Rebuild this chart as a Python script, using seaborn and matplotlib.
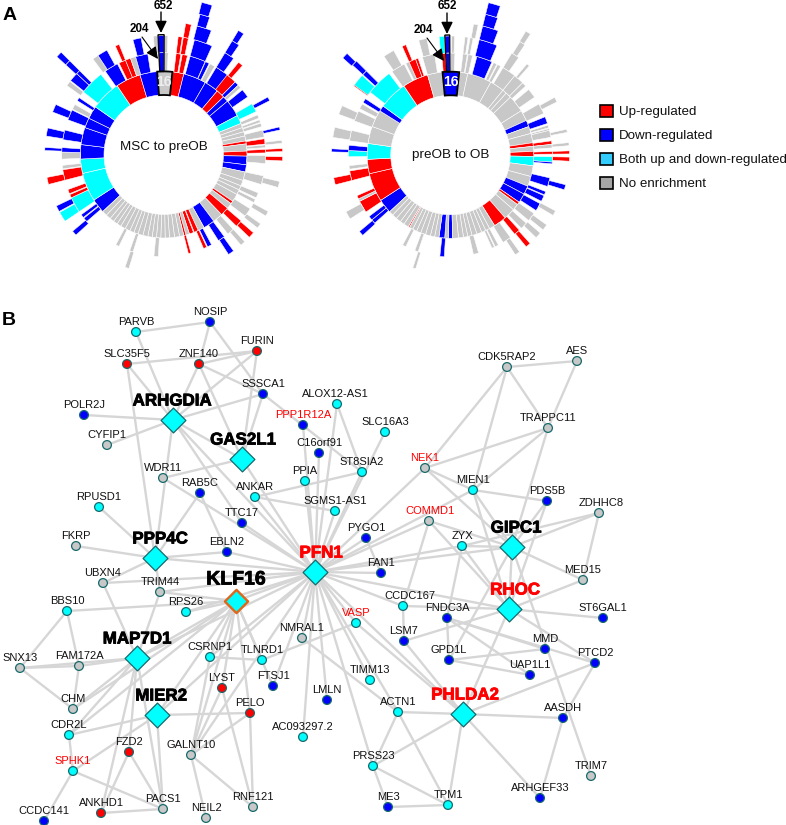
import numpy as np
import pandas as pd
import matplotlib
matplotlib.use("Agg")
import matplotlib.pyplot as plt
import matplotlib.patheffects as pe
from matplotlib.patches import Patch
import seaborn as sns

R, B, C, G = "red", "blue", "cyan", "grey"
colors = {R: "#ff0000", B: "#0000ff", C: "#00ffff", G: "#c8c8c8"}

# ring radii of the sunbursts
ring_edges = [59.7, 83.3, 102, 119, 133, 145, 157]

# thin grey terms along the bottom of each circle
msc_strips = [166, 169, 172.5, 176, 179, 182, 185, 188, 191, 194.5, 198, 201, 204, 207.5, 211, 214, 217, 220, 223.5, 227]
ob_strips_a = [152, 155, 158, 161.5, 165, 168, 171, 174.5, 178.5]
ob_strips_b = [188, 191, 194, 197.5, 201, 204, 207, 209.5]
ob_strips_c = [210.5, 214, 217, 220.5, 224, 227]

# (start angle, end angle, class) clockwise from the top
msc_ring1 = [(-4.5, 6, G), (6, 14, R), (14, 30, B), (30, 40, B), (40, 46, R), (46, 50, B), (50, 62, B), (62, 68, C),
             (68, 71, G), (71, 74, G), (74, 77, G), (77, 80.5, G), (80.5, 82.5, R), (82.5, 87.5, G), (87.5, 91, R),
             (91, 97, B), (97, 102, B), (102, 108, G), (108, 112, G), (112, 115, G), (115, 118.5, G), (118.5, 124, G),
             (124, 126, R), (126, 130, G), (130, 136, R), (136, 143, G), (143, 151, B), (151, 155.5, G),
             (155.5, 158.5, R), (159, 162, R), (162, 164.5, G), (164.5, 166, R),
             (227, 237, B), (237, 257, C), (257, 267, C), (267, 277, B), (277, 289, B), (289, 296, B), (296, 305, B),
             (305, 326, C), (326, 343.5, R), (343.5, 355.5, B)]
msc_ring2 = [(0.3, 2.5, G), (7, 9.7, R), (10.5, 13.5, R), (15, 24, B), (24.2, 26.5, B), (27, 30, G), (31, 39, B),
             (38.5, 44.5, R), (44.5, 47, B), (47, 49, G), (50.5, 55.5, B), (60, 65, C), (67, 69, G), (70, 71.5, G),
             (72, 74, G), (76, 80, G), (81, 84, R), (84.5, 86, G), (87, 89, R), (90.5, 95, G), (102, 107, G),
             (112, 115, G), (116, 118, G), (122, 127, G), (130.5, 134.5, R), (137, 141, G), (143.5, 147.5, B),
             (152, 154.5, B), (155, 157, R), (164.5, 166, R), (183, 185.5, G), (197.5, 199.5, G), (206, 208, G),
             (229, 231.5, B), (232, 234, B), (236, 245, C), (245, 247, R), (247.5, 250, R), (255.5, 261.5, R), (262, 264, G),
             (267.5, 271.5, G), (271.5, 274, B), (278.5, 284, B), (290, 296, B), (296.5, 299.5, G), (302, 304, B),
             (308, 322, C), (325, 333, B), (334, 338, R), (338, 341, R), (341, 344, G), (344, 351, B)]
msc_ring3 = [(-5, -2.8, G), (0.3, 2, G), (7, 9, R), (9.5, 12, R), (15, 24, B), (31, 36, B), (39, 41.5, R), (61, 63, B),
             (76.5, 78, B), (83, 84.5, G), (87, 88.5, R), (91, 93, R), (103, 106, G), (118.5, 121, G), (125.5, 128, G),
             (131, 134, R), (137, 139.5, G), (144, 147, B), (197, 199, G), (227.5, 230, B), (236, 241, C),
             (241.5, 244.5, B), (255.5, 259, R), (272, 273.5, B), (279, 283, B), (291, 295, B), (305.5, 308, G),
             (308.5, 313, B), (313, 315, B), (323.5, 326.5, G), (326.5, 331.5, B), (336, 338, R), (345, 349, B)]
msc_ring4 = [(9.5, 12, R), (14.5, 21, B), (31, 34.5, B), (312.5, 315, B)]
msc_ring5 = [(14.5, 18.5, B), (31, 33.5, B), (312.5, 315, B)]
msc_ring6 = [(14, 18, B)]
msc_box1 = (-4.5, 6)
msc_box2 = (-2.7, 0.2)
msc_top = [(-2.7, 0.2, B)]

ob_ring1 = [(-5.5, 6, B), (6, 12, G), (12, 29, G), (29, 39, G), (39, 42, G), (42, 46, G), (46, 58, G), (58, 65.5, G),
            (65.5, 70, B), (70, 75, G), (75, 81.5, G), (81.5, 84, R), (84, 87.5, G), (87.5, 91, R), (91, 97.5, C),
            (97.5, 105, G), (105, 112, G), (112, 118, B), (118, 124.5, B), (124.5, 126.5, R), (126.5, 131, G),
            (131, 139, G), (139, 148, R), (148, 152, G), (178.5, 181.5, B), (181.5, 184, G), (184, 188, B),
            (209.5, 210.5, R), (227, 237, B), (237, 257, R), (257, 267, R), (267, 278, C), (278, 290, G), (290, 302, G),
            (302, 306, B), (306, 326, C), (326, 344, R), (344, 354.5, G)]
ob_ring2 = [(-5, -2.8, R), (0, 2.5, G), (7, 9.5, G), (10, 12.5, G), (15, 24, B), (25, 27, G), (27.5, 29.5, G), (31, 39, G),
            (39, 45, G), (45, 47.5, G), (50, 55.5, G), (60, 66, G), (68, 72, B), (73, 74.5, G), (75, 76, G), (76, 80, G),
            (82, 84, R), (84, 86, G), (88, 89.5, R), (91, 94, C), (94, 95, B), (103, 108, B), (111, 113, B),
            (113.5, 117, B), (118.5, 123, B), (125, 130, G), (132, 136, G), (137.5, 141, R), (144, 149, G),
            (152, 154, G), (154.5, 156, G), (164, 167, G), (183.5, 186, B), (198.5, 200.5, G), (206, 208, G),
            (228, 230.5, B), (230.5, 233, B), (236, 243, R), (243, 244.5, G), (244.5, 246.5, R), (255.5, 261, R),
            (262, 264, G), (269, 272.5, C), (272.5, 275.5, B), (278, 284, G), (289.5, 295.5, G), (297, 300, G),
            (301, 303.5, B), (308, 323, C), (325, 333, G), (334, 336, G), (336, 340, R), (340, 341.5, R), (344, 351, G)]
ob_ring3 = [(-5.5, -3, C), (0.5, 2, G), (7, 8.5, G), (9.5, 11, G), (14, 23, B), (31, 35, G), (40, 41.5, G), (61, 63.5, G),
            (77.5, 79, G), (84, 85.5, G), (88, 89.5, R), (91, 93, R), (104.5, 107, B), (118, 120.5, G), (126, 129, G),
            (131, 134, G), (138, 140.5, R), (144.5, 147, G), (197, 198.5, G), (227.5, 230, B), (237.5, 241.5, G),
            (255.5, 259, R), (271.5, 273, B), (278.5, 283.5, G), (290, 294.5, G), (305.5, 307.5, R), (306, 312, C),
            (312.5, 315, B), (326, 331.5, G), (336, 338, R), (344.5, 348.5, G)]
ob_ring4 = [(10, 12, G), (14, 21, B), (31.5, 34, G), (312.5, 315, B)]
ob_ring5 = [(14, 19, B), (31.3, 33.5, G), (312, 314.5, B)]
ob_ring6 = [(14, 18.5, B)]
ob_box1 = (-5.5, 6)
ob_box2 = (-2.7, -0.4)
ob_top = [(-2.7, -0.4, B)]

# network
gene_names = ["NOSIP", "PARVB", "FURIN", "SLC35F5", "ZNF140", "SSSCA1", "ALOX12-AS1", "POLR2J", "PPP1R12A", "SLC16A3",
              "CYFIP1", "C16orf91", "ST8SIA2", "WDR11", "PPIA", "RAB5C", "ANKAR", "SGMS1-AS1", "RPUSD1", "TTC17",
              "PYGO1", "FKRP", "EBLN2", "FAN1", "UBXN4", "TRIM44", "RPS26", "BBS10", "VASP", "NMRAL1",
              "CSRNP1", "TLNRD1", "SNX13", "FAM172A", "TIMM13", "LYST", "FTSJ1", "LMLN", "CHM", "PELO",
              "CDR2L", "AC093297.2", "FZD2", "GALNT10", "SPHK1", "PRSS23", "ACTN1", "RNF121", "PACS1", "ANKHD1",
              "NEIL2", "CCDC141", "ME3", "CDK5RAP2", "AES", "TRAPPC11", "NEK1", "MIEN1", "PDS5B", "ZDHHC8",
              "COMMD1", "ZYX", "MED15", "CCDC167", "FNDC3A", "ST6GAL1", "LSM7", "MMD", "GPD1L", "PTCD2",
              "UAP1L1", "AASDH", "TRIM7", "ARHGEF33", "TPM1"]
gene_x = [210, 136, 257, 127, 199, 263, 337, 84, 303, 385,
          107, 319, 362, 163, 305, 200, 255, 335, 99, 242,
          366, 76, 227, 381, 103, 160, 186, 67, 356, 302,
          210, 262, 20, 79, 370, 222, 273, 327, 73, 250,
          69, 303, 129, 191, 73, 373, 398, 253, 163, 101,
          206, 44, 388, 507, 577, 548, 425, 473, 547, 599,
          429, 462, 583, 403, 447, 603, 404, 545, 449, 595,
          530, 563, 591, 540, 448]
gene_y = [322, 332, 351, 364, 364, 394, 404, 415, 425, 432,
          445, 453, 472, 478, 481, 493, 497, 511, 507, 523,
          538, 546, 552, 573, 583, 592, 612, 611, 623, 638,
          657, 660, 668, 666, 680, 688, 686, 700, 709, 713,
          735, 737, 752, 755, 771, 766, 712, 807, 809, 813,
          818, 821, 807, 367, 361, 428, 468, 490, 501, 513,
          521, 546, 580, 606, 618, 618, 641, 649, 660, 663,
          675, 718, 776, 798, 805]
grey_genes = ["CYFIP1", "WDR11", "FKRP", "UBXN4", "TRIM44", "SNX13", "FAM172A", "CHM", "NMRAL1", "GALNT10", "PACS1",
              "NEIL2", "RNF121", "AES", "CDK5RAP2", "TRAPPC11", "NEK1", "COMMD1", "ZDHHC8", "MED15", "TRIM7"]
red_genes = ["SLC35F5", "ZNF140", "FURIN", "LYST", "PELO", "FZD2", "ANKHD1"]
blue_genes = ["NOSIP", "POLR2J", "SSSCA1", "PPP1R12A", "C16orf91", "RAB5C", "TTC17", "EBLN2", "PYGO1", "FAN1", "FTSJ1",
              "LMLN", "CCDC141", "ME3", "PDS5B", "FNDC3A", "ST6GAL1", "LSM7", "MMD", "GPD1L", "PTCD2", "UAP1L1", "AASDH",
              "ARHGEF33"]
red_labels = ["PPP1R12A", "NEK1", "COMMD1", "VASP", "SPHK1", "PFN1", "RHOC", "PHLDA2"]

hub_names = ["ARHGDIA", "GAS2L1", "PPP4C", "PFN1", "KLF16", "MAP7D1", "MIER2", "GIPC1", "RHOC", "PHLDA2"]
hub_x = [173, 242, 155, 315, 236, 137, 157, 512, 509, 463]
hub_y = [420, 459, 558, 572, 601, 658, 715, 547, 609, 714]
hub_label_dx = [-1, 1, 5, 6, 0, 0, 4, 4, 6, 2]

edges = {
    "ARHGDIA": ["POLR2J", "CYFIP1", "SLC35F5", "ZNF140", "PARVB", "FURIN", "SSSCA1", "PPP4C", "PFN1", "GAS2L1", "TTC17"],
    "GAS2L1": ["WDR11", "SSSCA1", "ZNF140", "FURIN", "PFN1"],
    "PPP4C": ["SLC35F5", "RAB5C", "RPUSD1", "FKRP", "UBXN4", "TRIM44", "EBLN2", "PFN1"],
    "PFN1": ["PPP1R12A", "C16orf91", "PPIA", "ALOX12-AS1", "SLC16A3", "ST8SIA2", "SGMS1-AS1", "PYGO1", "FAN1", "ANKAR",
             "TTC17", "EBLN2", "WDR11", "UBXN4", "TRIM44", "KLF16", "COMMD1", "NEK1", "MIEN1", "ZYX", "GIPC1",
             "RHOC", "CCDC167", "VASP", "TIMM13", "PHLDA2", "ACTN1", "PRSS23", "LMLN", "AC093297.2", "FTSJ1", "CSRNP1",
             "RPS26", "MAP7D1", "MIER2", "GALNT10", "NMRAL1"],
    "KLF16": ["RPS26", "TRIM44", "BBS10", "MAP7D1", "MIER2", "CSRNP1", "TLNRD1", "FTSJ1", "PELO", "LYST", "GALNT10", "CDR2L", "CHM"],
    "MAP7D1": ["UBXN4", "TRIM44", "SNX13", "FAM172A", "CHM", "CDR2L", "FZD2", "ANKHD1", "PACS1"],
    "MIER2": ["CDR2L", "PACS1", "PELO", "SPHK1"],
    "GIPC1": ["ZYX", "PDS5B", "ZDHHC8", "MED15", "NEK1", "GPD1L", "TRIM7", "COMMD1", "MIEN1", "TRAPPC11", "RHOC"],
    "RHOC": ["ZYX", "MIEN1", "COMMD1", "PDS5B", "CCDC167", "LSM7", "MED15", "ST6GAL1", "PTCD2", "PHLDA2"],
    "PHLDA2": ["LSM7", "VASP", "ACTN1", "PRSS23", "TPM1", "AASDH", "ARHGEF33", "PTCD2"],
    "NOSIP": ["PARVB", "ZNF140", "SSSCA1"],
    "FURIN": ["SLC35F5", "ZNF140"],
    "ZNF140": ["SSSCA1"],
    "SSSCA1": ["ST8SIA2"],
    "ANKAR": ["ST8SIA2", "SGMS1-AS1"],
    "ALOX12-AS1": ["ST8SIA2"],
    "RAB5C": ["EBLN2"],
    "PYGO1": ["FAN1"],
    "BBS10": ["SNX13", "FAM172A"],
    "SNX13": ["FAM172A", "CHM"],
    "FAM172A": ["CHM"],
    "CDR2L": ["SPHK1"],
    "SPHK1": ["CCDC141", "PACS1"],
    "FZD2": ["PACS1", "ANKHD1"],
    "ANKHD1": ["PACS1"],
    "GALNT10": ["PELO", "NEIL2", "RNF121", "CSRNP1", "LYST"],
    "LYST": ["RNF121"],
    "PELO": ["RNF121"],
    "CSRNP1": ["TLNRD1"],
    "VASP": ["TLNRD1"],
    "NMRAL1": ["ACTN1"],
    "ACTN1": ["TPM1", "PRSS23"],
    "PRSS23": ["ME3", "TPM1"],
    "ME3": ["TPM1"],
    "CDK5RAP2": ["AES", "TRAPPC11", "NEK1", "MIEN1"],
    "TRAPPC11": ["AES", "NEK1", "MIEN1"],
    "NEK1": ["MIEN1"],
    "MIEN1": ["PDS5B"],
    "ZDHHC8": ["MED15", "ZYX"],
    "COMMD1": ["CCDC167"],
    "ZYX": ["FNDC3A"],
    "CCDC167": ["LSM7"],
    "FNDC3A": ["GPD1L", "MMD", "PTCD2", "UAP1L1"],
    "GPD1L": ["MMD", "UAP1L1"],
    "AASDH": ["PTCD2", "ARHGEF33"],
}

legend_labels = ["Up-regulated", "Down-regulated", "Both up and down-regulated", "No enrichment"]
legend_colors = ["#ff0000", "#0000ff", "#33ccff", "#a6a6a6"]

W, H = 786, 825
sns.set_theme(style="white")
plt.rcParams["font.family"] = ["Liberation Sans", "DejaVu Sans"]


def overlay(z):
    ax = fig.add_axes([0, 0, 1, 1], zorder=z)
    ax.set_xlim(0, W)
    ax.set_ylim(H, 0)
    ax.set_axis_off()
    ax.patch.set_alpha(0)
    return ax


def sunburst(cx, cy, rings, box1, box2, title, title_y, count_color):
    rmax = 158
    ax = fig.add_axes([(cx - rmax) / W, 1 - (cy + rmax) / H, 2 * rmax / W, 2 * rmax / H], projection="polar")
    ax.set_theta_zero_location("N")
    ax.set_theta_direction(-1)
    ax.set_ylim(0, rmax)
    ax.set_axis_off()
    for i, ring in enumerate(rings):
        bottom = ring_edges[i]
        top = ring_edges[i + 1]
        for start, end, kind in ring:
            ax.bar(np.radians((start + end) / 2), top - bottom, width=np.radians(end - start), bottom=bottom,
                   color=colors[kind], edgecolor="white", linewidth=0.4)
    # the highlighted term and its children
    ax.bar(np.radians(sum(box1) / 2), ring_edges[1] - ring_edges[0], width=np.radians(box1[1] - box1[0]),
           bottom=ring_edges[0], fill=False, edgecolor="black", linewidth=1.3, zorder=5)
    ax.bar(np.radians(sum(box2) / 2), 120 - ring_edges[1], width=np.radians(box2[1] - box2[0]),
           bottom=ring_edges[1], fill=False, edgecolor="black", linewidth=1.0, zorder=5)
    ax.text(np.radians(0.5), 73, "16", color=count_color, fontsize=10, fontweight="bold", ha="center", va="center", zorder=6)
    fig.text(cx / W, 1 - title_y / H, title, fontsize=9.7, color="#111111", ha="center", va="center")


def arrow(ax, text, tx, ty, x0, y0, x1, y1, width):
    ax.text(tx, ty, text, fontsize=8.4, fontweight="bold", color="black", ha="center", va="center", zorder=10)
    ax.annotate("", xy=(x1, y1), xytext=(x0, y0), zorder=10,
                arrowprops=dict(arrowstyle="-|>,head_length=0.45,head_width=0.22", color="black", lw=width,
                                mutation_scale=16, shrinkA=0, shrinkB=0))


fig = plt.figure(figsize=(W / 100, H / 100), dpi=100)
canvas = overlay(1)

# network
pos = dict(zip(gene_names + hub_names, zip(gene_x + hub_x, gene_y + hub_y)))
for source, targets in edges.items():
    for target in targets:
        canvas.plot([pos[source][0], pos[target][0]], [pos[source][1], pos[target][1]],
                    color="#d6d6d6", lw=1.7, solid_capstyle="round", zorder=1)

nodes = pd.DataFrame({"name": gene_names, "x": gene_x, "y": gene_y})
nodes["kind"] = C
nodes.loc[nodes["name"].isin(grey_genes), "kind"] = G
nodes.loc[nodes["name"].isin(red_genes), "kind"] = R
nodes.loc[nodes["name"].isin(blue_genes), "kind"] = B
sns.scatterplot(data=nodes, x="x", y="y", hue="kind", palette=colors, s=40, edgecolor="#17696b", linewidth=0.9,
                legend=False, ax=canvas, zorder=3)

hubs = pd.DataFrame({"name": hub_names, "x": hub_x, "y": hub_y})
hub_plain = hubs[hubs["name"] != "KLF16"]
sns.scatterplot(data=hub_plain, x="x", y="y", marker="D", s=160, color=colors[C], edgecolor="#17696b", linewidth=0.9,
                legend=False, ax=canvas, zorder=3)
sns.scatterplot(data=hubs[hubs["name"] == "KLF16"], x="x", y="y", marker="D", s=140, color=colors[C], edgecolor="#e0661a",
                linewidth=1.7, legend=False, ax=canvas, zorder=3)
canvas.set_xlabel("")
canvas.set_ylabel("")
canvas.set_xlim(0, W)
canvas.set_ylim(H, 0)

for name, x, y in zip(gene_names, gene_x, gene_y):
    dx = {"CCDC167": 7, "ZDHHC8": 2, "COMMD1": 1, "ALOX12-AS1": -2}.get(name, 0)
    canvas.text(x + dx, y - 10, name, fontsize=8, ha="center", va="center", zorder=4,
                color="#ff0000" if name in red_labels else "#111111")
for name, x, y, dx in zip(hub_names, hub_x, hub_y, hub_label_dx):
    col = "#ff0000" if name in red_labels else "black"
    size = 14 if name == "KLF16" else 12.2
    canvas.text(x + dx, y - (21 if name == "KLF16" else 19), name, fontsize=size, fontweight="bold", color=col,
                ha="center", va="center", zorder=4,
                path_effects=[pe.withStroke(linewidth=0.6, foreground=col)])

# panel A
sunburst(163.7, 154.7, [msc_ring1 + [(a, b, G) for a, b in zip(msc_strips[:-1], msc_strips[1:])],
                        msc_ring2 + msc_top, msc_ring3 + msc_top, msc_ring4, msc_ring5, msc_ring6],
         msc_box1, msc_box2, "MSC to preOB", 147, "#eeeeee")
sunburst(450.5, 155, [ob_ring1 + [(a, b, G) for s in (ob_strips_a, ob_strips_b, ob_strips_c) for a, b in zip(s[:-1], s[1:])],
                      ob_ring2 + ob_top, ob_ring3 + ob_top, ob_ring4, ob_ring5, ob_ring6],
         ob_box1, ob_box2, "preOB to OB", 155, "white")

top_layer = overlay(5)
arrow(top_layer, "652", 163, 6, 161, 12, 161, 33, 1.0)
arrow(top_layer, "204", 139, 29, 142, 37, 158, 59, 0.8)
arrow(top_layer, "652", 447, 6, 447, 13, 447, 34, 1.0)
arrow(top_layer, "204", 423, 30, 427, 38, 444, 61, 0.8)

handles = [Patch(facecolor=c, edgecolor="black", linewidth=1.2) for c in legend_colors]
fig.legend(handles, legend_labels, loc="upper left", bbox_to_anchor=(600 / W, 1 - 105 / H), frameon=False, fontsize=9.6,
           handlelength=0.95, handleheight=0.95, handletextpad=0.45, labelspacing=0.8, borderpad=0, borderaxespad=0,
           labelcolor="#111111")

fig.text(3 / W, 1 - 15 / H, "A", fontsize=14, fontweight="bold", va="center", color="black")
fig.text(2 / W, 1 - 320 / H, "B", fontsize=14, fontweight="bold", va="center", color="black")

fig.savefig("out.png", dpi=100)
